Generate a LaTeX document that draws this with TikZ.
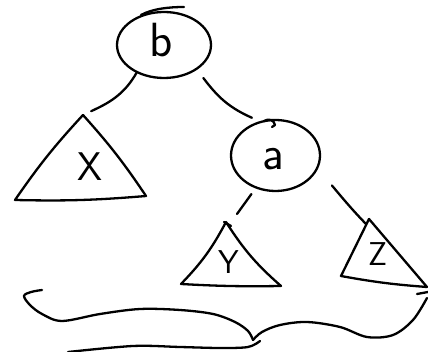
\documentclass[tikz,border=0pt]{standalone}
\usetikzlibrary{shapes.geometric,calc}
\begin{document}
\begin{tikzpicture}[x=1pt,y=-1pt,line width=2.3pt,line cap=round,line join=round,
  circ/.style={ellipse,draw,inner sep=0pt,outer sep=0pt},
  lbl/.style={inner sep=0pt,outer sep=0pt},
  big/.style={lbl,font=\sffamily\fontsize{48}{48}\selectfont},
  mid/.style={lbl,font=\sffamily\fontsize{40}{40}\selectfont},
  small/.style={lbl,font=\sffamily\fontsize{33}{33}\selectfont}]
\useasboundingbox (0,0) rectangle (428,352);

% inner nodes
\node[circ,minimum width=94pt,minimum height=66pt] (b) at (164,45) {};
\draw (141,15) .. controls (152,9) and (168,7) .. (184,7);
\node[big] (tb) at (161,40) {b};
\node[circ,minimum width=89pt,minimum height=71pt] (a) at (275.5,155.5) {};
\draw (264,121) .. controls (269,118) and (274,120) .. (275,125) -- (272,127);
\node[big] (ta) at (273.5,159) {a};

% subtrees
\coordinate (xtop) at (83,115);
\coordinate (xl) at (15,200);
\coordinate (xr) at (146,196);
\draw (xtop) to[bend right=4] (xl) to[bend right=3] (xr) to[bend right=4] (xtop);
\node[mid] (tx) at (89.5,166.5) {X};

\coordinate (ytop) at (226,222);
\coordinate (yl) at (181,284);
\coordinate (yr) at (281,286);
\draw (ytop) to[bend left=8] (yl) to[bend right=2] (yr) to[bend left=8] (ytop);
\draw (224,222) -- (231,226);
\node[small] (ty) at (229,262) {Y};

\coordinate (ztop) at (369,219);
\coordinate (zl) at (341,276);
\coordinate (zr) at (427,287);
\draw (ztop) -- (zl) to[bend right=3] (zr) -- (ztop);
\node[small] (tz) at (377.5,254) {Z};

% connectors
\draw[shorten >=9pt] (b.-135) to[out=-119,in=25] (xtop);
\draw ($(b.-40)!-12pt!(b.center)$) to[out=-53,in=156] ($(a.122)!-7pt!(a.center)$);
\draw ($(a.-122.5)!-8pt!(a.center)$) -- ($(ytop)+(11,-8)$);
\draw ($(a.-28)!-22pt!(a.center)$) to[out=-50,in=134] ($(ztop)+(-3,5)$);

% brace
\draw plot[smooth,tension=0.55] coordinates {(42,290) (31,292) (24,296) (30,305) (42,314) (62,321) (100,314) (140,309) (180,310) (213,314) (235,322) (248,331) (253,340)};
\draw plot[smooth,tension=0.55] coordinates {(253,340) (262,332) (280,325) (307,322) (340,327) (367,337) (393,335) (413,320) (427,298)};
\draw (417,294) -- (428,292);
\draw plot[smooth,tension=0.55] coordinates {(68,352) (133,346) (180,347) (220,348) (248,347) (260,341)};
\end{tikzpicture}
\end{document}
